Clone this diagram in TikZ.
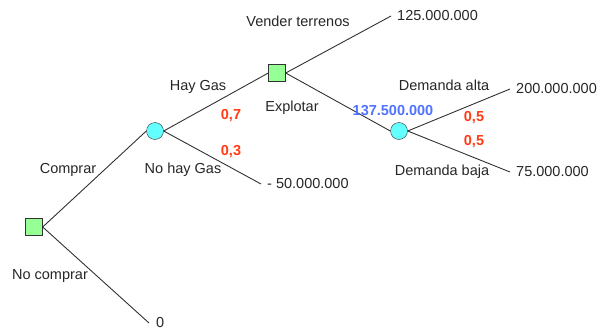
\documentclass[tikz,border=0pt]{standalone}
\usepackage{fontspec}
\setmainfont{Liberation Sans}
\usepackage{tikz}
\usetikzlibrary{positioning}

\definecolor{decgreen}{RGB}{150,255,150}
\definecolor{chancecyan}{RGB}{100,255,255}
\definecolor{probred}{RGB}{255,60,20}
\definecolor{evblue}{RGB}{80,115,255}
\definecolor{linegray}{RGB}{50,50,50}

\begin{document}
\begin{tikzpicture}[x=1pt, y=-1pt, font=\fontsize{14.5}{17}\selectfont,
  decnode/.style={draw=linegray, fill=decgreen, minimum size=17pt, inner sep=0pt},
  chancenode/.style={draw=linegray, fill=chancecyan, circle, minimum size=17pt, inner sep=0pt},
  valnode/.style={anchor=west, inner xsep=6pt, inner ysep=0pt, text=black!85},
  lbl/.style={text=black!85},
  prob/.style={text=probred, font=\fontsize{14.5}{17}\selectfont\bfseries},
  branch/.style={draw=linegray, line width=0.9pt}]
  \useasboundingbox (0,0) rectangle (601,332);
  % nodes of the tree
  \node[decnode] (d1) at (34,227) {};
  \node[chancenode] (c1) at (155,131) {};
  \node[decnode] (d2) at (277,73) {};
  \node[chancenode] (c2) at (399,131) {};
  % end values
  \node[valnode] (v125) at (391,16) {125.000.000};
  \node[valnode] (v50) at (261,184) {- 50.000.000};
  \node[valnode] (v200) at (510,89) {200.000.000};
  \node[valnode] (v75) at (510,172) {75.000.000};
  \node[valnode, inner xsep=7pt] (v0) at (149,323) {0};
  % branches
  \draw[branch] (d1.east) -- (c1.west);
  \draw[branch] (d1.east) -- (v0.west);
  \draw[branch] (c1.east) -- (d2.west);
  \draw[branch] (c1.east) -- (v50.west);
  \draw[branch] (d2.east) -- (v125.west);
  \draw[branch] (d2.east) -- (c2.west);
  \draw[branch] (c2.east) -- (v200.west);
  \draw[branch] (c2.east) -- (v75.west);
  % branch labels
  \node[lbl] at (68,170) {Comprar};
  \node[lbl] at (50,276) {No comprar};
  \node[lbl] at (198,87) {Hay Gas};
  \node[lbl] at (183,170) {No hay Gas};
  \node[lbl] at (298,21) {Vender terrenos};
  \node[lbl] at (292,108) {Explotar};
  \node[lbl] at (444,85) {Demanda alta};
  \node[lbl] at (442,172) {Demanda baja};
  % probabilities
  \node[prob] at (231,116) {0,7};
  \node[prob] at (231,152) {0,3};
  \node[prob] at (474,118) {0,5};
  \node[prob] at (474,142) {0,5};
  % expected value
  \node[prob, text=evblue] at (393,111) {137.500.000};
\end{tikzpicture}
\end{document}
